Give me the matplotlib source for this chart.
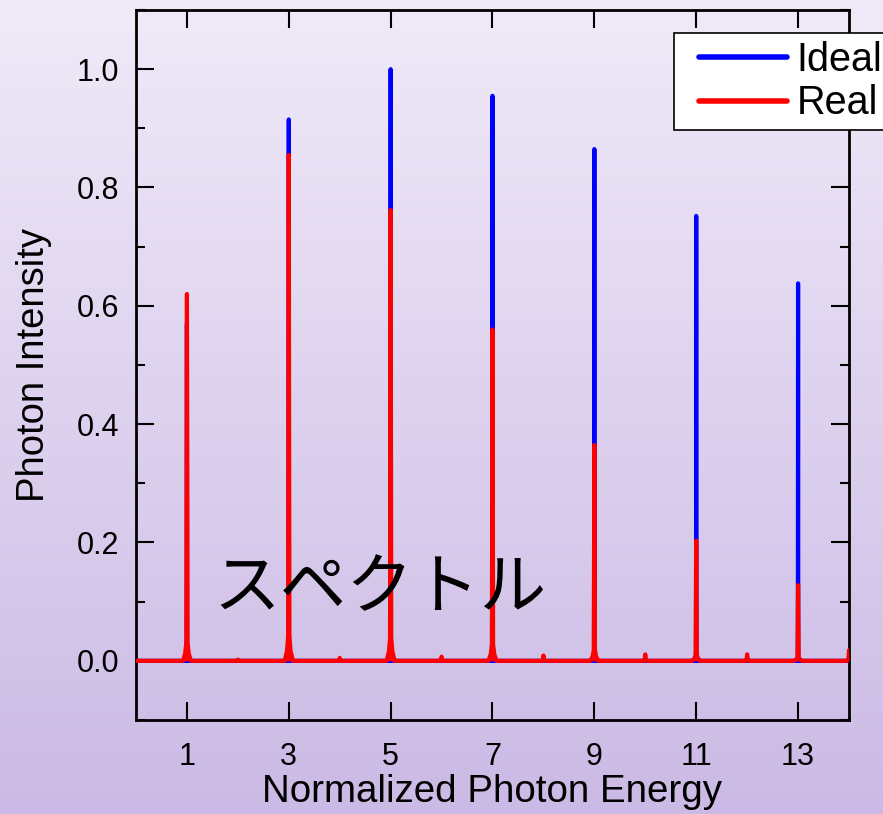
import numpy as np, matplotlib as mpl
mpl.use('Agg'); import matplotlib.pyplot as plt
from matplotlib.ticker import MultipleLocator
from matplotlib.legend_handler import HandlerLine2D

mpl.rcParams.update({'font.family': ['Liberation Sans', 'DejaVu Sans'], 'font.size': 20})

# harmonic orders and peak heights
odd_orders = [1, 3, 5, 7, 9, 11, 13]
ideal_peaks = [0.57, 0.915, 1.0, 0.955, 0.865, 0.752, 0.638]
real_peaks = [0.62, 0.855, 0.762, 0.56, 0.365, 0.203, 0.128]
even_orders = [2, 4, 6, 8, 10, 12, 14]
real_even = [0.002, 0.005, 0.007, 0.009, 0.011, 0.011, 0.018]
xticks = [1, 3, 5, 7, 9, 11, 13]

BLUE = '#0000ff'; RED = '#ff0000'
# line profiles (offset in energy, relative height)
ideal_dx = np.array([-0.004, 0.0, 0.004]); ideal_h = np.array([0.0, 1.0, 0.0])
real_dx = np.array([-0.08, -0.035, -0.012, 0.0, 0.012, 0.035, 0.08])
real_h = np.array([0.0, 0.02, 0.05, 1.0, 0.05, 0.02, 0.0])


def spectrum(orders, heights, pdx, ph, x0=0.0, x1=14.0):
    xs = [x0]; ys = [0.0]
    for n, h in sorted(zip(orders, heights)):
        for dx, f in zip(pdx, ph):
            if n + dx <= x1:
                xs.append(n + dx); ys.append(h * f)
    if xs[-1] < x1:
        xs.append(x1); ys.append(0.0)
    return np.array(xs), np.array(ys)


class PadLine(HandlerLine2D):
    # legend handle drawn with extra room on its left
    def create_artists(self, legend, orig_handle, xdescent, ydescent, width, height, fontsize, trans):
        pad = 12
        return super().create_artists(legend, orig_handle, xdescent - pad, ydescent,
                                      width - pad, height, fontsize, trans)


fig = plt.figure(figsize=(8.83, 8.14), dpi=100)
# lavender background gradient
bg = fig.add_axes([0, 0, 1, 1], zorder=-5); bg.axis('off')
top = np.array([240, 234, 248]) / 255; bot = np.array([203, 186, 229]) / 255
t = np.linspace(0, 1, 256)[:, None]
bg.imshow((top * (1 - t) + bot * t)[:, None, :], aspect='auto', extent=[0, 1, 0, 1])

ax = fig.add_axes([136 / 883, 1 - 720 / 814, 713 / 883, 710 / 814])
ax.set_facecolor('none')

xi, yi = spectrum(odd_orders, ideal_peaks, ideal_dx, ideal_h)
xr, yr = spectrum(odd_orders + even_orders, real_peaks + real_even, real_dx, real_h)
ax.plot(xi, yi, color=BLUE, lw=3, label='Ideal', zorder=2,
        solid_capstyle='round', solid_joinstyle='round')
ax.fill_between(xr, yr, color=RED, lw=0, zorder=3)
ax.plot(xr, yr, color=RED, lw=3, label='Real', zorder=3,
        solid_capstyle='round', solid_joinstyle='round')

ax.set_xlim(0, 14); ax.set_ylim(-0.1, 1.1)
ax.set_xticks(xticks)
ax.yaxis.set_major_locator(MultipleLocator(0.2)); ax.yaxis.set_minor_locator(MultipleLocator(0.1))
ax.yaxis.set_major_formatter(mpl.ticker.FormatStrFormatter('%.1f'))
ax.tick_params(which='both', direction='in', top=True, right=True, width=1.5)
ax.tick_params(which='major', length=13, labelsize=22)
ax.tick_params(axis='x', pad=16)
ax.tick_params(axis='y', pad=12)
ax.tick_params(which='minor', length=6.5)
for s in ax.spines.values(): s.set_linewidth(2)

ax.set_xlabel('Normalized Photon Energy', fontsize=27.7, labelpad=1)
ax.set_ylabel('Photon Intensity', fontsize=27.5, labelpad=18)

ax.text(4.78, 0.12, 'スペクトル', fontsize=48, ha='center', va='center',
        family=['Noto Sans CJK JP', 'DejaVu Sans'], zorder=4)

leg = fig.legend(loc='upper left', bbox_to_anchor=(674 / 883, 1 - 33 / 814), fontsize=28.5,
                 frameon=True, fancybox=False, borderpad=0.2, labelspacing=0.14,
                 handlelength=2.65, handletextpad=0.25, borderaxespad=0,
                 handler_map={mpl.lines.Line2D: PadLine()})
leg.get_frame().set_edgecolor('black'); leg.get_frame().set_linewidth(1.2)
leg.get_frame().set_alpha(1)
for ln in leg.get_lines(): ln.set_linewidth(4)

fig.savefig('out.png', dpi=100)
